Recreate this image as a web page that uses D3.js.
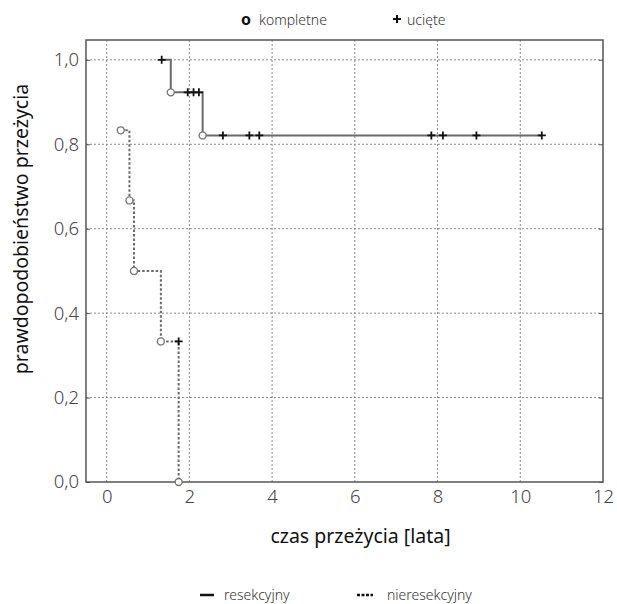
<!DOCTYPE html>
<html>
<head>
<meta charset="utf-8">
<script src="https://cdn.jsdelivr.net/npm/d3@7"></script>
<style>
  body { margin: 0; background: #fff; }
  text { font-family: "Noto Sans", "Open Sans", sans-serif; }
</style>
</head>
<body>
<svg id="chart"></svg>
<script>
// krzywe Kaplana-Meiera
// typ: "e" = zdarzenie (kompletne), "c" = ucięte
const resTimes = [1.33, 1.55, 1.96, 2.10, 2.23, 2.32, 2.81, 3.45, 3.69, 7.85, 8.13, 8.94, 10.52];
const resSurv  = [1.0, 0.923, 0.923, 0.923, 0.923, 0.821, 0.821, 0.821, 0.821, 0.821, 0.821, 0.821, 0.821];
const resType  = ["c", "e", "c", "c", "c", "e", "c", "c", "c", "c", "c", "c", "c"];

const nresTimes = [0.34, 0.55, 0.66, 1.31, 1.74, 1.74];
const nresSurv  = [0.833, 0.667, 0.5, 0.333, 0.333, 0.0];
const nresType  = ["e", "e", "e", "e", "c", "e"];

const xTicks = [0, 2, 4, 6, 8, 10, 12];
const yTicks = [0, 0.2, 0.4, 0.6, 0.8, 1.0];

const W = 617, H = 604;
const plot = { left: 86, right: 603, top: 40, bottom: 482 };

const svg = d3.select("#chart").attr("width", W).attr("height", H);

const x = d3.scaleLinear().domain([-0.5, 12]).range([plot.left, plot.right]);
const y = d3.scaleLinear().domain([0, 1.047]).range([plot.bottom, plot.top]);

const fmt = v => v.toFixed(1).replace(".", ",");

// siatka
svg.append("g").selectAll("line.vg")
  .data(xTicks.filter(t => t < 12))
  .enter().append("line")
    .attr("x1", d => x(d)).attr("x2", d => x(d))
    .attr("y1", plot.top).attr("y2", plot.bottom)
    .attr("stroke", "#8a8a8a").attr("stroke-width", 1)
    .attr("stroke-dasharray", "2,2");

svg.append("g").selectAll("line.hg")
  .data(yTicks.filter(t => t > 0))
  .enter().append("line")
    .attr("x1", plot.left).attr("x2", plot.right)
    .attr("y1", d => y(d)).attr("y2", d => y(d))
    .attr("stroke", "#8a8a8a").attr("stroke-width", 1)
    .attr("stroke-dasharray", "2,2");

// ramka
svg.append("rect")
  .attr("x", plot.left).attr("y", plot.top)
  .attr("width", plot.right - plot.left).attr("height", plot.bottom - plot.top)
  .attr("fill", "none").attr("stroke", "#555").attr("stroke-width", 1.5);

// osie
const yAxisL = d3.axisLeft(y).tickValues(yTicks).tickSize(-4).tickPadding(7).tickFormat(fmt);
const gy = svg.append("g").attr("transform", `translate(${plot.left},0)`).call(yAxisL);
gy.select(".domain").remove();
gy.selectAll(".tick line").attr("stroke", "#555");
gy.selectAll("text").attr("font-size", 18.5).attr("fill", "#444").attr("font-weight", 300);

const yAxisR = d3.axisRight(y).tickValues(yTicks).tickSize(-4).tickFormat("");
const gyr = svg.append("g").attr("transform", `translate(${plot.right},0)`).call(yAxisR);
gyr.select(".domain").remove();
gyr.selectAll(".tick line").attr("stroke", "#555");

const xAxis = d3.axisBottom(x).tickValues(xTicks).tickSize(0).tickPadding(8).tickFormat(d => d);
const gx = svg.append("g").attr("transform", `translate(0,${plot.bottom})`).call(xAxis);
gx.select(".domain").remove();
gx.selectAll("text").attr("font-size", 18.5).attr("fill", "#444").attr("font-weight", 300);

// tytuły osi
svg.append("text")
  .attr("x", (plot.left + plot.right) / 2 + 16).attr("y", 543)
  .attr("text-anchor", "middle").attr("font-size", 19.5).attr("fill", "#111")
  .text("czas przeżycia [lata]");

svg.append("text")
  .attr("transform", "translate(28,229) rotate(-90)")
  .attr("text-anchor", "middle").attr("font-size", 19.5).attr("fill", "#111")
  .text("prawdopodobieństwo przeżycia");

// krzywe
function series(times, surv, type) {
  return times.map((t, i) => ({ t: t, s: surv[i], type: type[i] }));
}
const res = series(resTimes, resSurv, resType);
const nres = series(nresTimes, nresSurv, nresType);

const line = d3.line().x(d => x(d.t)).y(d => y(d.s)).curve(d3.curveStepAfter);

svg.append("path").datum(res)
  .attr("d", line).attr("fill", "none")
  .attr("stroke", "#6a6a6a").attr("stroke-width", 2);

svg.append("path").datum(nres)
  .attr("d", line).attr("fill", "none")
  .attr("stroke", "#6a6a6a").attr("stroke-width", 2)
  .attr("stroke-dasharray", "2.5,2");

function marks(data) {
  svg.append("g").selectAll("circle")
    .data(data.filter(d => d.type === "e"))
    .enter().append("circle")
      .attr("cx", d => x(d.t)).attr("cy", d => y(d.s)).attr("r", 3.5)
      .attr("fill", "#fff").attr("stroke", "#777").attr("stroke-width", 1.4);
  svg.append("g").selectAll("path")
    .data(data.filter(d => d.type === "c"))
    .enter().append("path")
      .attr("d", d => {
        const cx = x(d.t), cy = y(d.s);
        return `M${cx - 4},${cy}H${cx + 4}M${cx},${cy - 4}V${cy + 4}`;
      })
      .attr("stroke", "#111").attr("stroke-width", 1.8);
}
marks(res);
marks(nres);

// legenda górna
svg.append("text").attr("x", 241).attr("y", 25)
  .attr("font-size", 16).attr("font-weight", 700).attr("fill", "#111").text("o");
svg.append("text").attr("x", 259).attr("y", 25)
  .attr("font-size", 14).attr("fill", "#333").attr("font-weight", 300).text("kompletne");
svg.append("path").attr("d", "M393,19H401M397,15V23")
  .attr("stroke", "#111").attr("stroke-width", 2);
svg.append("text").attr("x", 407).attr("y", 25)
  .attr("font-size", 14).attr("fill", "#333").attr("font-weight", 300).text("ucięte");

// legenda dolna
svg.append("line").attr("x1", 200).attr("x2", 214).attr("y1", 595).attr("y2", 595)
  .attr("stroke", "#111").attr("stroke-width", 2.5);
svg.append("text").attr("x", 224).attr("y", 600)
  .attr("font-size", 14).attr("fill", "#333").attr("font-weight", 300).text("resekcyjny");
svg.append("line").attr("x1", 357).attr("x2", 373).attr("y1", 595).attr("y2", 595)
  .attr("stroke", "#111").attr("stroke-width", 2.5).attr("stroke-dasharray", "3,1.5");
svg.append("text").attr("x", 387).attr("y", 600)
  .attr("font-size", 14).attr("fill", "#333").attr("font-weight", 300).text("nieresekcyjny");
</script>
</body>
</html>
